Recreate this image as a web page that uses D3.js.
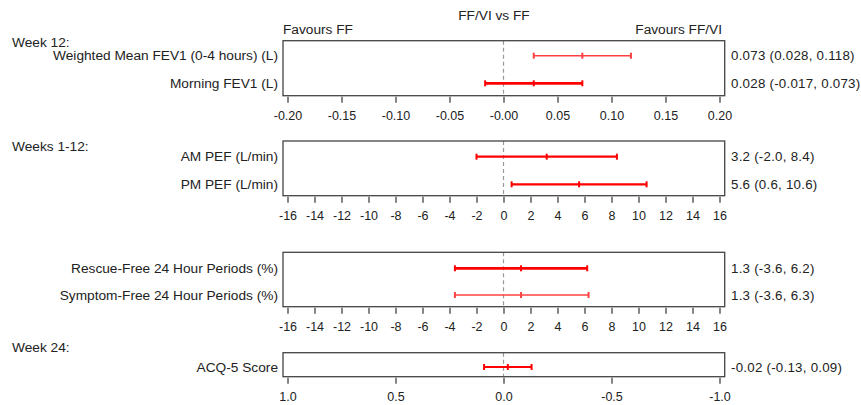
<!DOCTYPE html>
<html><head><meta charset="utf-8">
<script src="https://cdn.jsdelivr.net/npm/d3@7"></script>
<style>body{margin:0;background:#fff;} text{font-family:"Liberation Sans",Arial,sans-serif;fill:#222;}</style>
</head><body><svg id="c" width="861" height="405"></svg>
<script>
// Data
const panel1Labels = ["Weighted Mean FEV1 (0-4 hours) (L)", "Morning FEV1 (L)"];
const panel1Est = [0.073, 0.028];
const panel1Lo = [0.028, -0.017];
const panel1Hi = [0.118, 0.073];
const panel1Text = ["0.073 (0.028, 0.118)", "0.028 (-0.017, 0.073)"];
const panel1Ticks = [-0.20,-0.15,-0.10,-0.05,0.00,0.05,0.10,0.15,0.20];
const panel1TickLabels = ["-0.20","-0.15","-0.10","-0.05","-0.00","0.05","0.10","0.15","0.20"];

const panel2Labels = ["AM PEF (L/min)", "PM PEF (L/min)"];
const panel2Est = [3.2, 5.6];
const panel2Lo = [-2.0, 0.6];
const panel2Hi = [8.4, 10.6];
const panel2Text = ["3.2 (-2.0, 8.4)", "5.6 (0.6, 10.6)"];

const panel3Labels = ["Rescue-Free 24 Hour Periods (%)", "Symptom-Free 24 Hour Periods (%)"];
const panel3Est = [1.3, 1.3];
const panel3Lo = [-3.6, -3.6];
const panel3Hi = [6.2, 6.3];
const panel3Text = ["1.3 (-3.6, 6.2)", "1.3 (-3.6, 6.3)"];

const pefTicks = [-16,-14,-12,-10,-8,-6,-4,-2,0,2,4,6,8,10,12,14,16];

const panel4Labels = ["ACQ-5 Score"];
const panel4Est = [-0.02];
const panel4Lo = [-0.13];
const panel4Hi = [0.09];
const panel4Text = ["-0.02 (-0.13, 0.09)"];
const acqTicks = [1.0, 0.5, 0.0, -0.5, -1.0];
const acqTickLabels = ["1.0","0.5","0.0","-0.5","-1.0"];

const svg = d3.select("#c");
const boxL = 283, boxR = 724.7;
const red = "#ff0000";
const FS = 13.7;

function panel(cfg){
  const x = d3.scaleLinear().domain(cfg.domain).range([287.5, 719.5]);
  const g = svg.append("g");
  const n = cfg.labels.length;
  const y = d3.scalePoint().domain(d3.range(n)).range(cfg.rows);
  g.append("line").attr("x1", x(0)).attr("x2", x(0)).attr("y1", cfg.top).attr("y2", cfg.bottom)
    .attr("stroke", "#999").attr("stroke-width", 1.2).attr("stroke-dasharray", "4,3");
  g.append("rect").attr("x", boxL).attr("y", cfg.top).attr("width", boxR - boxL).attr("height", cfg.bottom - cfg.top)
    .attr("fill", "none").attr("stroke", "#444").attr("stroke-width", 1.3);
  const ax = d3.axisBottom(x).tickValues(cfg.ticks).tickSize(6).tickPadding(8)
    .tickFormat((d, i) => cfg.tickLabels ? cfg.tickLabels[i] : String(d));
  const axg = g.append("g").attr("transform", `translate(0,${cfg.bottom + 1})`).call(ax);
  axg.select(".domain").remove();
  axg.selectAll(".tick line").attr("stroke", "#333").attr("stroke-width", 1.2);
  axg.selectAll(".tick text").attr("font-size", 12.5).attr("fill", "#222")
    .style("font-family", '"Liberation Sans",Arial,sans-serif');
  for (let i = 0; i < n; i++) {
    const yy = y(i);
    const sw = cfg.widths[i];
    const col = cfg.colors[i];
    g.append("line").attr("x1", x(cfg.lo[i])).attr("x2", x(cfg.hi[i])).attr("y1", yy).attr("y2", yy)
      .attr("stroke", col).attr("stroke-width", sw);
    [cfg.lo[i], cfg.est[i], cfg.hi[i]].forEach(v => {
      g.append("line").attr("x1", x(v)).attr("x2", x(v)).attr("y1", yy - 3).attr("y2", yy + 3)
        .attr("stroke", col).attr("stroke-width", 2);
    });
    g.append("text").attr("x", 278).attr("y", yy).attr("dy", "0.35em").attr("text-anchor", "end")
      .attr("font-size", FS).text(cfg.labels[i]);
    g.append("text").attr("x", 731).attr("y", yy).attr("dy", "0.35em").attr("text-anchor", "start")
      .attr("font-size", 13.3).attr("letter-spacing", 0.25).text(cfg.text[i]);
  }
}

panel({labels: panel1Labels, est: panel1Est, lo: panel1Lo, hi: panel1Hi, text: panel1Text,
  domain: [-0.2, 0.2], ticks: panel1Ticks, tickLabels: panel1TickLabels,
  top: 40.7, bottom: 95.7, rows: [55.7, 83.3], widths: [1.4, 2.8], colors: ["#ff4040", red]});
panel({labels: panel2Labels, est: panel2Est, lo: panel2Lo, hi: panel2Hi, text: panel2Text,
  domain: [-16, 16], ticks: pefTicks,
  top: 141, bottom: 195.7, rows: [156.7, 184.3], widths: [2.2, 2.2], colors: [red, red]});
panel({labels: panel3Labels, est: panel3Est, lo: panel3Lo, hi: panel3Hi, text: panel3Text,
  domain: [-16, 16], ticks: pefTicks,
  top: 252.3, bottom: 306.7, rows: [268.3, 295], widths: [2.8, 1.4], colors: [red, "#ff4040"]});
panel({labels: panel4Labels, est: panel4Est, lo: panel4Lo, hi: panel4Hi, text: panel4Text,
  domain: [1, -1], ticks: acqTicks, tickLabels: acqTickLabels,
  top: 352.7, bottom: 376.7, rows: [367, 367], widths: [1.8], colors: [red]});

svg.append("text").attr("x", 494).attr("y", 20).attr("text-anchor", "middle").attr("font-size", FS).text("FF/VI vs FF");
svg.append("text").attr("x", 283).attr("y", 34).attr("text-anchor", "start").attr("font-size", FS).text("Favours FF");
svg.append("text").attr("x", 722).attr("y", 34).attr("text-anchor", "end").attr("font-size", FS).text("Favours FF/VI");
svg.append("text").attr("x", 12).attr("y", 47).attr("font-size", FS).text("Week 12:");
svg.append("text").attr("x", 12).attr("y", 151).attr("font-size", FS).text("Weeks 1-12:");
svg.append("text").attr("x", 12).attr("y", 352).attr("font-size", FS).text("Week 24:");
</script></body></html>
